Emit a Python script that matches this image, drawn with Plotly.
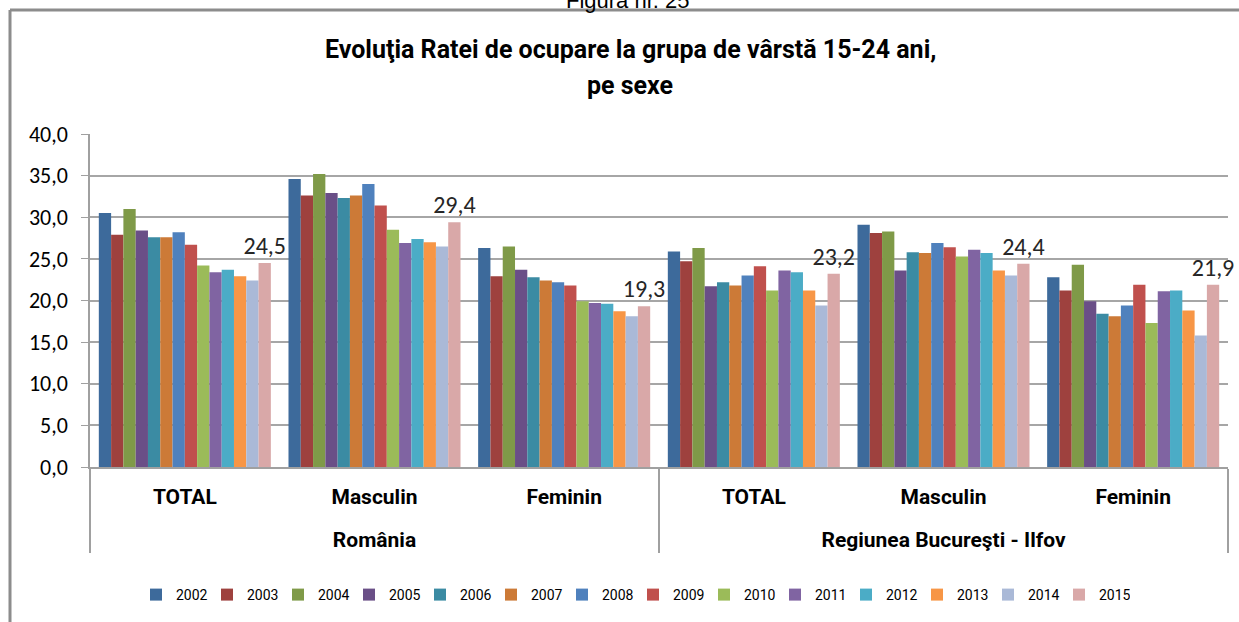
import plotly.graph_objects as go

regions = ["România"] * 3 + ["Regiunea Bucureşti - Ilfov"] * 3
subcats = ["TOTAL", "Masculin", "Feminin"] * 2

years = ["2002", "2003", "2004", "2005", "2006", "2007", "2008",
         "2009", "2010", "2011", "2012", "2013", "2014", "2015"]

# values per year across the 6 categories
v2002 = [30.5, 34.6, 26.3, 25.9, 29.1, 22.8]
v2003 = [27.9, 32.6, 22.9, 24.7, 28.1, 21.2]
v2004 = [31.0, 35.2, 26.5, 26.3, 28.3, 24.3]
v2005 = [28.4, 32.9, 23.7, 21.7, 23.6, 19.9]
v2006 = [27.6, 32.3, 22.8, 22.2, 25.8, 18.4]
v2007 = [27.6, 32.6, 22.4, 21.8, 25.7, 18.1]
v2008 = [28.2, 34.0, 22.2, 23.0, 26.9, 19.4]
v2009 = [26.7, 31.4, 21.8, 24.1, 26.4, 21.9]
v2010 = [24.2, 28.5, 19.9, 21.2, 25.3, 17.3]
v2011 = [23.4, 26.9, 19.7, 23.6, 26.1, 21.1]
v2012 = [23.7, 27.4, 19.6, 23.4, 25.7, 21.2]
v2013 = [22.9, 27.0, 18.7, 21.2, 23.6, 18.8]
v2014 = [22.4, 26.5, 18.1, 19.4, 23.0, 15.8]
v2015 = [24.5, 29.4, 19.3, 23.2, 24.4, 21.9]

series = [v2002, v2003, v2004, v2005, v2006, v2007, v2008,
          v2009, v2010, v2011, v2012, v2013, v2014, v2015]

colors = ["#3D6A9B", "#9E413E", "#7F9A48", "#6A4F87", "#3B8BA3", "#CC7A37",
          "#4F81BD", "#C0504D", "#9BBB59", "#8064A2", "#4BACC6", "#F79646",
          "#AAB9D7", "#D9A8A8"]

yticks = [0, 5, 10, 15, 20, 25, 30, 35, 40]

NARROW = "Liberation Sans Narrow, Arial Narrow, Roboto, sans-serif"
CAL = "Carlito, Calibri, Lato, sans-serif"

# outer level labels pushed one line down (as in the reference spacing)
outer = ["<br>" + r for r in regions]

fig = go.Figure()
for yr, vals, col in zip(years, series, colors):
    kw = {}
    if yr == "2015":
        kw = dict(texttemplate="%{y:.1f}", textposition="outside",
                  textfont=dict(family=CAL, size=24, color="#262626"),
                  constraintext="none", cliponaxis=False)
    fig.add_trace(go.Bar(
        x=[outer, subcats], y=vals, name=yr,
        marker=dict(color=col, line=dict(width=0)),
        hoverinfo="skip", **kw))

W, H = 1239, 622
ML, MR, MT, MB = 90, 11, 134, 155
pw = W - ML - MR
ph = H - MT - MB

def px_x(x):
    return (x - ML) / pw

def px_y(y):
    return (H - MB - y) / ph

fig.update_layout(
    width=W, height=H,
    margin=dict(l=ML, r=MR, t=MT, b=MB, autoexpand=False),
    paper_bgcolor="white", plot_bgcolor="white",
    barmode="group", bargap=0.093, bargroupgap=0,
    separators=",.",
    showlegend=True,
    legend=dict(orientation="h", x=px_x(633), y=px_y(595),
                xanchor="center", yanchor="middle",
                font=dict(family=NARROW, size=14, color="#000000"),
                itemwidth=30, entrywidth=26, entrywidthmode="pixels",
                traceorder="normal", bgcolor="rgba(0,0,0,0)"),
    xaxis=dict(type="multicategory", showline=True, linecolor="#A0A0A0", linewidth=1.5,
               showdividers=True, dividercolor="#A0A0A0", dividerwidth=1.5,
               ticks="", ticklabelstandoff=10,
               tickfont=dict(family=NARROW, size=21, color="#000000", weight="bold"),
               showgrid=False),
    yaxis=dict(range=[0, 40], tickvals=yticks, tickformat=".1f",
               showgrid=True, gridcolor="#A6A6A6", gridwidth=1.5,
               showline=True, linecolor="#A0A0A0", linewidth=1.5,
               ticks="outside", ticklen=7, tickcolor="#A0A0A0",
               ticklabelstandoff=9,
               tickfont=dict(family=CAL, size=22, color="#000000"),
               zeroline=False),
    annotations=[
        dict(text="<b>Evoluţia Ratei de ocupare la grupa de vârstă 15-24 ani,</b>",
             xref="paper", yref="paper", x=px_x(630), y=px_y(50),
             xanchor="center", yanchor="middle", showarrow=False,
             font=dict(family=NARROW, size=25, color="#000000")),
        dict(text="<b>pe sexe</b>",
             xref="paper", yref="paper", x=px_x(630), y=px_y(86),
             xanchor="center", yanchor="middle", showarrow=False,
             font=dict(family=NARROW, size=25, color="#000000")),
        dict(text="Figura nr. 25",
             xref="paper", yref="paper", x=px_x(628), y=px_y(0),
             xanchor="center", yanchor="middle", showarrow=False,
             font=dict(family="Liberation Sans, Arial, sans-serif", size=22, color="#000000")),
    ],
    shapes=[
        dict(type="line", xref="paper", yref="paper",
             x0=px_x(10), x1=px_x(1245), y0=px_y(10), y1=px_y(10),
             line=dict(color="#8C8C8C", width=3)),
        dict(type="line", xref="paper", yref="paper",
             x0=px_x(10), x1=px_x(10), y0=px_y(10), y1=px_y(630),
             line=dict(color="#8C8C8C", width=3)),
    ],
)

fig.write_html("out.html", config={"displayModeBar": False},
               post_script="document.body.style.margin='0px';")
